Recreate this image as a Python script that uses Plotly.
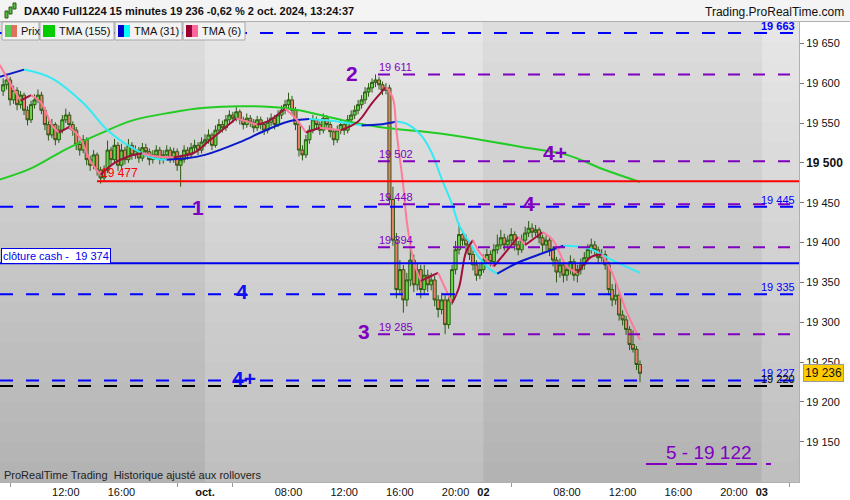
import plotly.graph_objects as go

FONT = "Liberation Sans, Arial, sans-serif"

# ---------------- data (15-minute bars, index 0 = 1 Oct 02:00, 80 bars per trading day) ----------------
bar_index = list(range(-58, 126))
first_open = 19590
closes = [19598, 19604, 19579, 19591, 19573, 19585, 19566, 19554, 19573, 19579,
          19585, 19566, 19548, 19535, 19548, 19529, 19541, 19554, 19560, 19548,
          19541, 19523, 19516, 19529, 19504, 19497, 19510, 19491, 19481, 19491,
          19516, 19504, 19522, 19497, 19516, 19504, 19522, 19510, 19516, 19506,
          19519, 19514, 19504, 19510, 19516, 19504, 19510, 19516, 19506, 19514,
          19497, 19504, 19516, 19510, 19519, 19522, 19516, 19526, 19529, 19535,
          19522, 19541, 19548, 19544, 19554, 19560, 19556, 19564, 19554, 19548,
          19556, 19551, 19544, 19554, 19548, 19541, 19551, 19556, 19548, 19560,
          19566, 19573, 19579, 19566, 19548, 19516, 19510, 19529, 19541, 19554,
          19548, 19541, 19556, 19548, 19539, 19529, 19541, 19548, 19541, 19554,
          19560, 19566, 19573, 19579, 19589, 19594, 19601, 19604, 19598, 19591,
          19594, 19454, 19403, 19341, 19366, 19328, 19353, 19378, 19347, 19366,
          19341, 19359, 19347, 19353, 19328, 19316, 19328, 19297, 19328, 19366,
          19391, 19410, 19403, 19397, 19385, 19372, 19359, 19366, 19378, 19385,
          19376, 19391, 19397, 19406, 19397, 19403, 19410, 19397, 19391, 19403,
          19412, 19418, 19413, 19416, 19406, 19397, 19403, 19391, 19378, 19363,
          19372, 19359, 19366, 19376, 19359, 19366, 19372, 19381, 19391, 19397,
          19391, 19381, 19385, 19372, 19341, 19328, 19334, 19309, 19303, 19291,
          19272, 19266, 19247, 19236]
highs = [19606, 19612, 19608, 19597, 19595, 19590, 19588, 19571, 19578, 19586,
         19592, 19589, 19570, 19553, 19555, 19551, 19547, 19560, 19568, 19564,
         19552, 19545, 19528, 19535, 19532, 19509, 19516, 19513, 19495, 19497,
         19528, 19520, 19530, 19526, 19524, 19520, 19530, 19526, 19522, 19520,
         19525, 19524, 19518, 19516, 19522, 19520, 19516, 19522, 19520, 19519,
         19518, 19510, 19522, 19520, 19525, 19529, 19526, 19532, 19536, 19542,
         19538, 19547, 19555, 19553, 19560, 19566, 19564, 19570, 19567, 19558,
         19562, 19560, 19555, 19559, 19558, 19552, 19557, 19562, 19560, 19566,
         19572, 19579, 19588, 19584, 19570, 19552, 19522, 19535, 19547, 19560,
         19558, 19552, 19562, 19560, 19552, 19543, 19547, 19554, 19552, 19560,
         19566, 19572, 19579, 19585, 19595, 19600, 19606, 19611, 19608, 19602,
         19600, 19598, 19470, 19412, 19378, 19372, 19362, 19394, 19385, 19375,
         19372, 19372, 19366, 19362, 19358, 19334, 19337, 19334, 19336, 19372,
         19402, 19424, 19416, 19410, 19402, 19390, 19378, 19374, 19385, 19392,
         19390, 19398, 19410, 19416, 19411, 19409, 19418, 19414, 19402, 19410,
         19420, 19427, 19424, 19422, 19419, 19410, 19409, 19407, 19395, 19382,
         19380, 19376, 19374, 19384, 19380, 19372, 19380, 19388, 19398, 19405,
         19402, 19395, 19392, 19390, 19376, 19348, 19352, 19338, 19315, 19308,
         19295, 19290, 19270, 19252]
lows = [19584, 19592, 19572, 19574, 19566, 19568, 19560, 19547, 19550, 19568,
        19575, 19561, 19541, 19528, 19531, 19522, 19525, 19537, 19550, 19542,
        19534, 19516, 19509, 19512, 19497, 19490, 19492, 19484, 19474, 19476,
        19487, 19496, 19499, 19490, 19493, 19498, 19500, 19504, 19505, 19500,
        19502, 19508, 19497, 19499, 19505, 19498, 19499, 19505, 19500, 19500,
        19490, 19470, 19500, 19504, 19506, 19514, 19510, 19512, 19520, 19524,
        19516, 19519, 19536, 19538, 19540, 19550, 19550, 19552, 19548, 19542,
        19544, 19545, 19538, 19540, 19542, 19535, 19537, 19546, 19542, 19545,
        19555, 19561, 19568, 19560, 19541, 19508, 19503, 19506, 19524, 19537,
        19542, 19535, 19537, 19542, 19532, 19522, 19525, 19536, 19535, 19537,
        19549, 19555, 19561, 19568, 19574, 19583, 19588, 19595, 19592, 19585,
        19586, 19448, 19396, 19330, 19334, 19312, 19320, 19345, 19338, 19340,
        19330, 19335, 19338, 19340, 19320, 19306, 19310, 19285, 19292, 19322,
        19360, 19385, 19396, 19390, 19378, 19365, 19352, 19354, 19362, 19373,
        19370, 19372, 19386, 19392, 19390, 19392, 19398, 19390, 19384, 19387,
        19398, 19407, 19406, 19408, 19399, 19388, 19390, 19383, 19370, 19350,
        19356, 19350, 19352, 19360, 19352, 19350, 19360, 19366, 19376, 19386,
        19384, 19374, 19376, 19366, 19334, 19320, 19322, 19302, 19296, 19284,
        19265, 19262, 19240, 19225]
opens = [first_open] + closes[:-1]

tma155_x = [-59, -50, -40, -30, -21, -10, 0, 10, 19, 27, 39, 50, 67, 79, 91, 104, 115, 125]
tma155_y = [19479, 19493, 19517, 19537, 19553, 19563, 19569, 19571, 19570, 19566, 19554, 19545,
            19537, 19529, 19520, 19510, 19491, 19476]
tma31_x = [-59, -52, -44, -35, -28, -21, -15, -11, -5, 0, 10, 17, 24, 30, 38, 45, 50, 55, 58, 62,
           65, 68, 71, 73, 76, 79, 82, 84, 90, 96, 103, 110, 117, 125]
tma31_y = [19608, 19617, 19606, 19575, 19541, 19519, 19506, 19504, 19506, 19510, 19526, 19540,
           19552, 19555, 19552, 19547, 19548, 19552, 19549, 19535, 19514, 19480, 19448, 19422,
           19400, 19380, 19366, 19361, 19375, 19385, 19396, 19393, 19378, 19362]
tma6_x = [-59, -56, -53, -50, -47, -44, -42, -39, -36, -33, -30, -26, -22, -18, -14, -9, -3, 1, 6, 9,
          12, 15, 18, 23, 26, 29, 33, 39, 44, 48, 52, 54, 55, 57, 58, 60, 62, 65, 67, 71,
          73, 75, 77, 79, 83, 87, 90, 92, 97, 100, 104, 107, 111, 114, 117, 121, 125]
tma6_y = [19623, 19600, 19578, 19585, 19575, 19547, 19538, 19545, 19532, 19503, 19485, 19500,
          19508, 19512, 19508, 19507, 19513, 19527, 19545, 19556, 19552, 19548, 19552, 19568,
          19556, 19538, 19544, 19541, 19552, 19575, 19595, 19581, 19540, 19470, 19426, 19376,
          19352, 19358, 19362, 19324, 19344, 19388, 19403, 19387, 19370, 19391, 19407, 19397,
          19413, 19403, 19370, 19362, 19382, 19385, 19362, 19315, 19278]

blue_levels = [19663, 19445, 19335, 19227]
purple_levels = [19611, 19502, 19448, 19394, 19285]
red_level = 19477
cash_level = 19374
black_level = 19220
target_level = 19122
last_price = 19236

tick_vals = [-40, -24, 0, 24, 40, 56, 72, 80, 104, 120, 136, 152, 160]
tick_text = ["12:00", "16:00", "<b>oct.</b>", "08:00", "12:00", "16:00", "20:00", "<b>02</b>",
             "08:00", "12:00", "16:00", "20:00", "<b>03</b>"]
minor_tick_vals = [-56, -8, 8, 88, 168]
price_ticks = [19150, 19200, 19250, 19300, 19350, 19400, 19450, 19500, 19550, 19600, 19650]
day_bands = [(-80, 0, True), (0, 80, False), (80, 160, True), (160, 240, False)]

# ---------------- geometry ----------------
W, H = 850, 500
PLOT_L, PLOT_R, PLOT_T, PLOT_B = 0, 799, 22, 482
BAR_PX, BAR0_PX = 3.48, 205.0
PRICE_REF, PRICE_REF_PX, PX_PER_PT = 19650, 43.3, 0.797


def bx(px):
    return (px - BAR0_PX) / BAR_PX


def pv(py):
    return PRICE_REF - (py - PRICE_REF_PX) / PX_PER_PT


def ppx(px):
    return (px - PLOT_L) / (PLOT_R - PLOT_L)


def ppy(py):
    return (PLOT_B - py) / (PLOT_B - PLOT_T)


X_RANGE = [bx(PLOT_L), bx(PLOT_R)]
Y_RANGE = [pv(PLOT_B), pv(PLOT_T)]


def fmt(v):
    return f"{v:,}".replace(",", " ")


PURPLE = "#8000c0"
BLUE = "#0000ff"

fig = go.Figure()

fig.add_trace(go.Candlestick(
    x=bar_index, open=opens, high=highs, low=lows, close=closes,
    increasing=dict(fillcolor="#66d64a", line=dict(color="#2b5a12", width=1)),
    decreasing=dict(fillcolor="#e8806c", line=dict(color="#2b5a12", width=1)),
    whiskerwidth=0, showlegend=False, hoverinfo="skip"))


def two_color(xs, ys, up, down, width=2):
    segs = []
    cur = None
    sx, sy = [xs[0]], [ys[0]]
    for k in range(1, len(xs)):
        col = up if ys[k] >= ys[k - 1] else down
        if cur is None:
            cur = col
        if col != cur:
            segs.append((sx, sy, cur))
            sx, sy = [xs[k - 1]], [ys[k - 1]]
            cur = col
        sx.append(xs[k])
        sy.append(ys[k])
    segs.append((sx, sy, cur))
    for sx, sy, c in segs:
        fig.add_trace(go.Scatter(x=sx, y=sy, mode="lines",
                                 line=dict(color=c, width=width, shape="spline", smoothing=1),
                                 showlegend=False, hoverinfo="skip"))


fig.add_trace(go.Scatter(x=tma155_x, y=tma155_y, mode="lines",
                         line=dict(color="#22cc22", width=2, shape="spline"),
                         showlegend=False, hoverinfo="skip"))
two_color(tma31_x, tma31_y, "#0a1ac8", "#33eaf5")
two_color(tma6_x, tma6_y, "#a0103c", "#ff7a9c")

shapes = []
# background: day bands with vertical gradient
N = 23
for x0, x1, dark in day_bands:
    x0c, x1c = max(x0, X_RANGE[0]), min(x1, X_RANGE[1])
    if x1c <= x0c:
        continue
    top, bot = (222, 178) if dark else (231, 190)
    for k in range(N):
        t = (k + 0.5) / N
        g = round(top + (bot - top) * t)
        shapes.append(dict(type="rect", xref="x", yref="paper", x0=x0c, x1=x1c,
                           y0=1 - (k + 1) / N, y1=1 - k / N, layer="below",
                           fillcolor=f"rgb({g},{g},{g})", line=dict(width=0)))

DASH = "13px,13px"
for lv in blue_levels:
    shapes.append(dict(type="line", xref="x", yref="y", x0=X_RANGE[0], x1=X_RANGE[1], y0=lv, y1=lv,
                       line=dict(color=BLUE, width=2, dash=DASH), layer="above"))
shapes.append(dict(type="line", xref="x", yref="y", x0=X_RANGE[0], x1=X_RANGE[1],
                   y0=black_level, y1=black_level, line=dict(color="#000000", width=2, dash=DASH),
                   layer="above"))
for lv in purple_levels:
    shapes.append(dict(type="line", xref="x", yref="y", x0=bx(378), x1=X_RANGE[1], y0=lv, y1=lv,
                       line=dict(color=PURPLE, width=2, dash="12px,13px"), layer="above"))
shapes.append(dict(type="line", xref="x", yref="y", x0=bx(97), x1=X_RANGE[1], y0=red_level, y1=red_level,
                   line=dict(color="#ff0000", width=2), layer="above"))
shapes.append(dict(type="line", xref="x", yref="y", x0=X_RANGE[0], x1=X_RANGE[1], y0=cash_level,
                   y1=cash_level, line=dict(color="#0000ee", width=2), layer="above"))
shapes.append(dict(type="line", xref="x", yref="y", x0=bx(646), x1=bx(771), y0=target_level,
                   y1=target_level, line=dict(color=PURPLE, width=2, dash="21px,9px"), layer="above"))

# header
shapes.append(dict(type="rect", xref="paper", yref="paper", x0=ppx(0), x1=ppx(850), y0=ppy(21), y1=ppy(0),
                   fillcolor="#f4f4f4", line=dict(width=0), layer="above"))
shapes.append(dict(type="line", xref="paper", yref="paper", x0=ppx(0), x1=ppx(850), y0=ppy(21.5),
                   y1=ppy(21.5), line=dict(color="#b0b0b0", width=1), layer="above"))
# header candle icon
for (a, b, c, d, col) in [(5, 11, 8, 18, "#55c040"), (9, 7, 12, 14, "#55c040"), (13, 3, 16, 9, "#55c040")]:
    shapes.append(dict(type="rect", xref="paper", yref="paper", x0=ppx(a), x1=ppx(c), y0=ppy(d), y1=ppy(b),
                       fillcolor=col, line=dict(color="#2b5a12", width=1), layer="above"))

# legend boxes
legend_items = [
    (2, 39, "Prix", ("#55cc55", "#e07060")),
    (40, 114, "TMA (155)", ("#00cc00", "#00cc00")),
    (115, 182, "TMA (31)", ("#0000cc", "#00ffff")),
    (183, 245, "TMA (6)", ("#990033", "#ff6699")),
]
annotations = []
for x0, x1, label_text, (c1, c2) in legend_items:
    shapes.append(dict(type="rect", xref="paper", yref="paper", x0=ppx(x0), x1=ppx(x1), y0=ppy(40),
                       y1=ppy(22), fillcolor="#f2f2f2", line=dict(color="#a8a8a8", width=1), layer="above"))
    shapes.append(dict(type="rect", xref="paper", yref="paper", x0=ppx(x0 + 3), x1=ppx(x0 + 9), y0=ppy(37),
                       y1=ppy(25), fillcolor=c1, line=dict(width=0), layer="above"))
    shapes.append(dict(type="rect", xref="paper", yref="paper", x0=ppx(x0 + 9), x1=ppx(x0 + 15), y0=ppy(37),
                       y1=ppy(25), fillcolor=c2, line=dict(width=0), layer="above"))
    annotations.append(dict(text=label_text, xref="paper", yref="paper", x=ppx(x0 + 17), y=ppy(31),
                            xanchor="left", yanchor="middle", showarrow=False,
                            font=dict(family=FONT, size=11, color="#111111")))


def label(text, x, y, color, size=11, xanchor="left", yanchor="bottom", xref="x", yref="y", **kw):
    annotations.append(dict(text=text, x=x, y=y, xref=xref, yref=yref, xanchor=xanchor, yanchor=yanchor,
                            showarrow=False, font=dict(family=FONT, size=size, color=color), **kw))


label("<b>DAX40 Full1224 15 minutes 19 236 -0,62 % 2 oct. 2024, 13:24:37</b>", ppx(22), ppy(11), "#111111",
      yanchor="middle", xref="paper", yref="paper")
label("Trading.ProRealTime.com", ppx(846), ppy(12), "#111111", size=12, xanchor="right", yanchor="middle",
      xref="paper", yref="paper")

for lv in purple_levels:
    label(fmt(lv), bx(377), lv, PURPLE, yshift=-1)
for i, lv in enumerate(blue_levels):
    label(f"<b>{fmt(lv)}</b>" if i == 0 else fmt(lv), bx(797), lv, BLUE, xanchor="right", yshift=-1)
label(fmt(black_level), bx(797), black_level, "#000000", xanchor="right", yshift=-1)
label(fmt(red_level), bx(99), red_level, "#ff0000", size=12, yshift=-1)
label("clôture cash -\u00a0 " + fmt(cash_level), ppx(0.5), cash_level, "#0000ee", xref="paper",
      bgcolor="#ffffff", bordercolor="#0000ee", borderwidth=1, borderpad=1, yshift=-1)
label(fmt(last_price), ppx(803), last_price, "#111111", size=12, xref="paper", yanchor="middle",
      bgcolor="#ffcc00", bordercolor="#999999", borderwidth=1, borderpad=1)

for text, px, py, col in [("2", 352, 73, PURPLE), ("1", 198, 207, PURPLE), ("4", 242, 291, "#1010ee"),
                          ("3", 364, 331, PURPLE), ("4+", 244, 378, "#1010ee"), ("4+", 555, 152, PURPLE),
                          ("4", 529, 203, PURPLE)]:
    label(f"<b>{text}</b>", bx(px), pv(py), col, size=21, xanchor="center", yanchor="middle")
label("5 - " + fmt(target_level), bx(709), pv(452), PURPLE, size=19, xanchor="center", yanchor="middle")
label("ProRealTime Trading\u00a0 Historique ajusté aux rollovers", ppx(2), ppy(475), "#222222",
      xref="paper", yref="paper", yanchor="middle")

fig.update_layout(
    width=W, height=H,
    margin=dict(l=PLOT_L, r=W - PLOT_R, t=PLOT_T, b=H - PLOT_B, pad=0),
    paper_bgcolor="#ffffff", plot_bgcolor="#c8c8c8",
    showlegend=False, hovermode=False,
    shapes=shapes, annotations=annotations,
    boxgap=0.12, boxgroupgap=0,
    font=dict(family=FONT, size=11, color="#222222"),
    xaxis=dict(range=X_RANGE, tickmode="array", tickvals=tick_vals, ticktext=tick_text, ticks="",
               showgrid=False, zeroline=False, showline=True, linecolor="#b0b0b0", linewidth=1,
               tickfont=dict(family=FONT, size=11, color="#111111"), rangeslider=dict(visible=False),
               minor=dict(tickmode="array", tickvals=minor_tick_vals, ticks="outside", ticklen=4,
                          tickcolor="#999999", showgrid=False),
               fixedrange=True),
    yaxis=dict(range=Y_RANGE, side="right", tickmode="array", tickvals=price_ticks,
               ticktext=[f"<b><span style='font-size:12px'>{fmt(v)}</span></b>" if v == 19500 else fmt(v)
                         for v in price_ticks],
               ticks="outside", ticklen=4, tickcolor="#777777", showgrid=False, zeroline=False,
               showline=True, linecolor="#b0b0b0", linewidth=1,
               tickfont=dict(family=FONT, size=11, color="#111111"), fixedrange=True),
)

fig.write_html("out.html", config={"displayModeBar": False},
               post_script="document.body.style.margin='0';document.body.style.overflow='hidden';")
